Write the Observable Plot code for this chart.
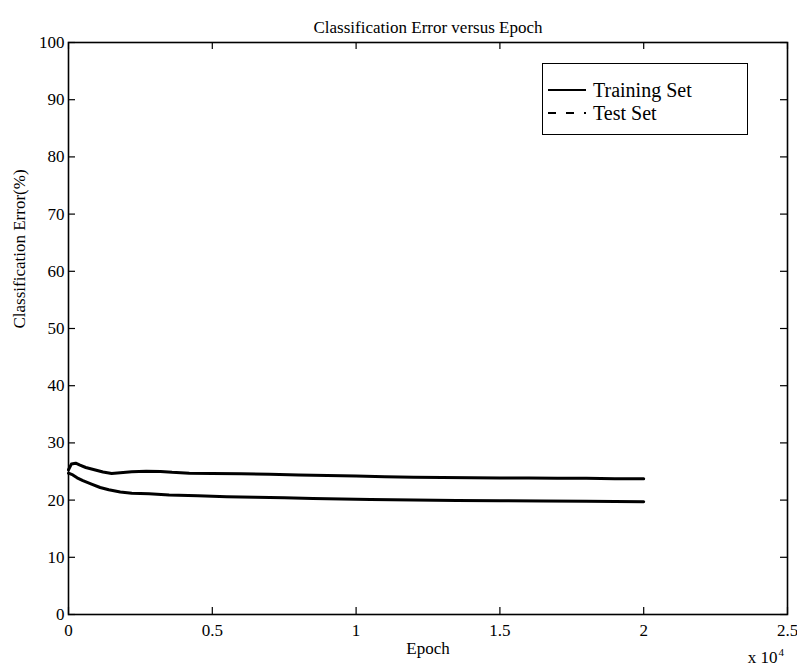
<!DOCTYPE html>
<html>
<head>
<meta charset="utf-8">
<script src="https://cdn.jsdelivr.net/npm/d3@7"></script>
<script src="https://cdn.jsdelivr.net/npm/@observablehq/plot@0.6"></script>
<style>
  html, body { margin: 0; padding: 0; background: white; }
  #wrap { position: relative; width: 797px; height: 671px; font-family: "Liberation Serif", serif; }
  #legend { position: absolute; left: 542px; top: 63px; width: 206px; height: 72px; border: 1.5px solid black; background: white; box-sizing: border-box; }
  .row { position: absolute; left: 0; height: 24px; display: flex; align-items: center; font-size: 20px; color: black; white-space: nowrap; }
  .row svg { margin-left: 5px; margin-right: 7px; }
</style>
</head>
<body>
<div id="wrap">
  <div id="chart"></div>
  <div id="legend">
    <div class="row" style="top:14px"><svg width="38" height="6"><line x1="0" y1="3" x2="38" y2="3" stroke="black" stroke-width="2"/></svg><span>Training Set</span></div>
    <div class="row" style="top:37px"><svg width="38" height="6"><line x1="0" y1="3" x2="38" y2="3" stroke="black" stroke-width="2" stroke-dasharray="8,10"/></svg><span>Test Set</span></div>
  </div>
</div>
<script>
// ---- data (epochs) ----
const trainEpoch = [0,150,300,500,800,1100,1400,1800,2200,2800,3500,4500,5500,6500,7500,8500,9500,10500,12000,13500,15000,16500,18000,19000,20000];
const trainError = [24.7,24.4,23.9,23.4,22.8,22.2,21.8,21.4,21.2,21.1,20.9,20.75,20.6,20.5,20.4,20.3,20.2,20.1,20.0,19.95,19.9,19.85,19.8,19.75,19.7];
const testEpoch = [0,100,250,400,600,900,1200,1500,1800,2200,2700,3200,3600,4200,5000,6000,7000,8000,9000,10000,11000,12000,13000,14000,15000,16000,17000,18000,19000,20000];
const testError = [25.3,26.3,26.45,26.1,25.7,25.3,24.9,24.65,24.8,24.95,25.05,25.0,24.85,24.7,24.65,24.6,24.5,24.4,24.3,24.2,24.1,24.0,23.95,23.9,23.85,23.85,23.8,23.8,23.75,23.75];
const xTicks = [0,5000,10000,15000,20000,25000];
const yTicks = [0,10,20,30,40,50,60,70,80,90,100];
const titleText = "Classification Error versus Epoch";
const xLabel = "Epoch";
const yLabel = "Classification Error(%)";

const train = trainEpoch.map((e,i) => ({epoch: e, error: trainError[i]}));
const test = testEpoch.map((e,i) => ({epoch: e, error: testError[i]}));

const W = 797, H = 671, mL = 68, mR = 10, mT = 42, mB = 57;
const innerH = H - mT - mB, innerW = W - mL - mR;
const tickLen = 7;
const fmt = d => String(d / 1e4);

const chart = Plot.plot({
  width: W, height: H,
  marginLeft: mL, marginRight: mR, marginTop: mT, marginBottom: mB,
  style: {fontFamily: "Liberation Serif, serif", fontSize: "17px", color: "black", background: "white"},
  x: {domain: [0, 25000]},
  y: {domain: [0, 100]},
  marks: [
    Plot.axisX({ticks: xTicks, tickSize: 0, tickPadding: 9, tickFormat: fmt, label: null, fontSize: 17}),
    Plot.axisY({ticks: yTicks, tickSize: 0, tickPadding: 4, label: null, fontSize: 17}),
    Plot.tickX(xTicks, {x: d => d, insetTop: innerH - tickLen, stroke: "black", strokeWidth: 1.2}),
    Plot.tickX(xTicks, {x: d => d, insetBottom: innerH - tickLen, stroke: "black", strokeWidth: 1.2}),
    Plot.tickY(yTicks, {y: d => d, insetRight: innerW - tickLen, stroke: "black", strokeWidth: 1.2}),
    Plot.tickY(yTicks, {y: d => d, insetLeft: innerW - tickLen, stroke: "black", strokeWidth: 1.2}),
    Plot.frame({stroke: "black", strokeWidth: 1.6}),
    Plot.line(test, {x: "epoch", y: "error", stroke: "black", strokeWidth: 3}),
    Plot.line(train, {x: "epoch", y: "error", stroke: "black", strokeWidth: 3}),
    Plot.text([titleText], {frameAnchor: "top", dy: -22, fontSize: 17}),
    Plot.text([xLabel], {frameAnchor: "bottom", dy: 39, fontSize: 17}),
    Plot.text([yLabel], {frameAnchor: "left", dx: -49, rotate: -90, fontSize: 17}),
    Plot.text(["x 10"], {frameAnchor: "bottom-right", dx: -10, dy: 48, textAnchor: "end", fontSize: 17}),
    Plot.text(["4"], {frameAnchor: "bottom-right", dx: -9, dy: 41, textAnchor: "start", fontSize: 11})
  ]
});
document.getElementById("chart").appendChild(chart);
</script>
</body>
</html>
